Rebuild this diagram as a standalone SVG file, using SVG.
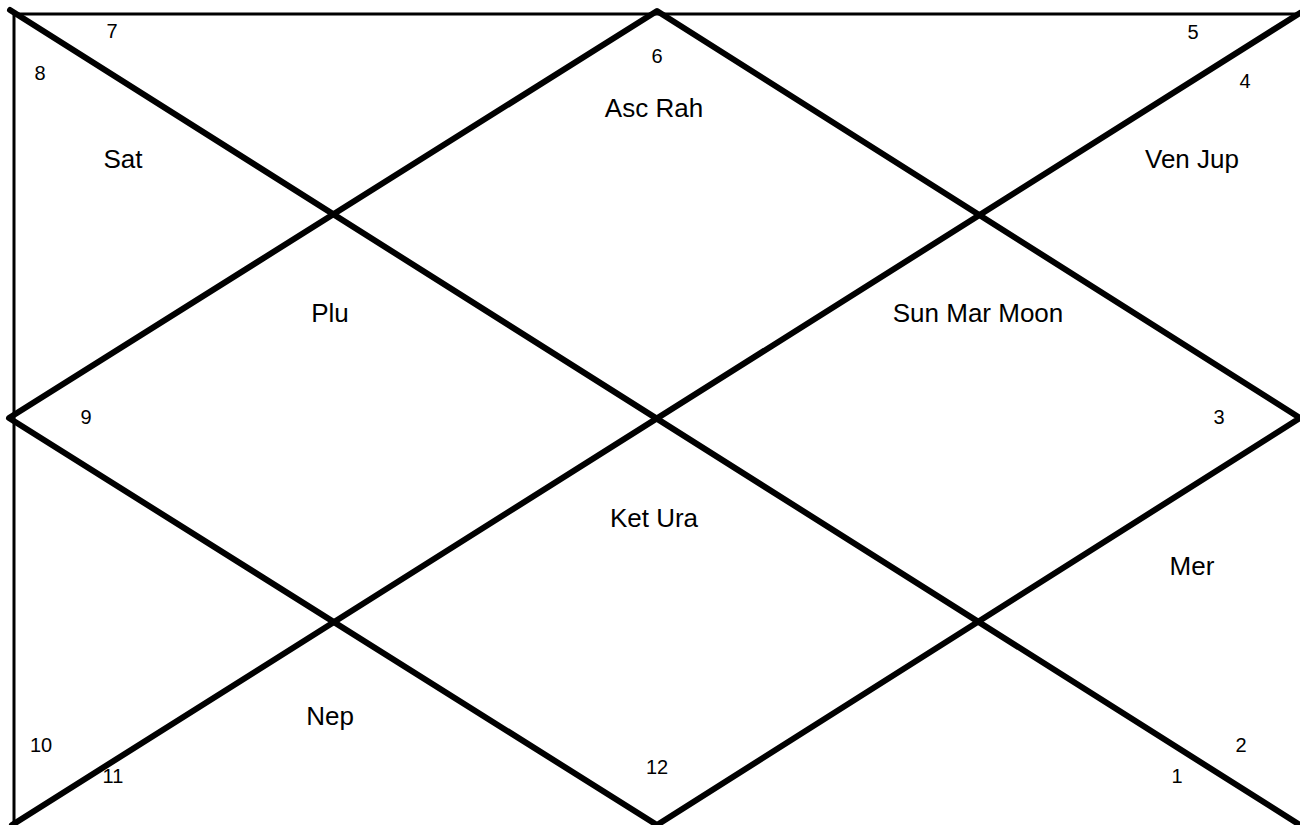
<svg xmlns="http://www.w3.org/2000/svg" width="1300" height="825" viewBox="0 0 1300 825">
<style>
.thin{stroke:#000;stroke-width:3;fill:none}
.thick{stroke:#000;stroke-width:6;fill:none;stroke-linecap:round;stroke-linejoin:round}
.num{font-family:"Liberation Sans",Arial,sans-serif;font-size:20px;fill:#000;text-anchor:middle}
.pl{font-family:"Liberation Sans",Arial,sans-serif;font-size:26px;fill:#000;text-anchor:middle}
</style>
<rect width="1300" height="825" fill="#fff"/>
<g id="connectors">
<line class="thin" x1="14" y1="14" x2="1300" y2="14"/>
<line class="thin" x1="14" y1="14" x2="14" y2="825"/>
<line class="thick" x1="10" y1="10" x2="1300" y2="825"/>
<line class="thick" x1="1300" y1="13" x2="12" y2="825"/>
<polygon class="thick" points="657,11 1300,418 657,825 9,418"/>
</g>
<g id="house1"><text class="num" x="1177" y="783">1</text><text class="pl" x="1192" y="575">Mer</text></g>
<g id="house2"><text class="num" x="1241" y="752">2</text></g>
<g id="house3"><text class="num" x="1219" y="424">3</text><text class="pl" x="978" y="322">Sun Mar Moon</text></g>
<g id="house4"><text class="num" x="1245" y="88">4</text><text class="pl" x="1192" y="168">Ven Jup</text></g>
<g id="house5"><text class="num" x="1193" y="39">5</text></g>
<g id="house6"><text class="num" x="657" y="63">6</text><text class="pl" x="654" y="117">Asc Rah</text></g>
<g id="house7"><text class="num" x="112" y="38">7</text></g>
<g id="house8"><text class="num" x="40" y="80">8</text><text class="pl" x="123" y="168">Sat</text></g>
<g id="house9"><text class="num" x="86" y="424">9</text><text class="pl" x="330" y="322">Plu</text></g>
<g id="house10"><text class="num" x="41" y="752">10</text></g>
<g id="house11"><text class="num" x="113" y="783">11</text><text class="pl" x="330" y="725">Nep</text></g>
<g id="house12"><text class="num" x="657" y="774">12</text><text class="pl" x="654" y="527">Ket Ura</text></g>
</svg>
